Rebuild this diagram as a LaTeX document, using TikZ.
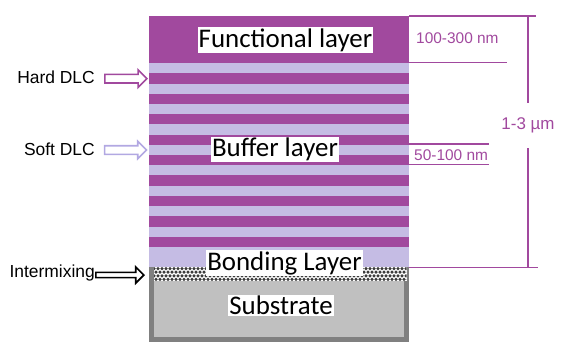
\documentclass[tikz,border=0pt]{standalone}
\usepackage{fontspec}
\setmainfont{Carlito}
\newfontfamily\arialfont{Liberation Sans}
\usetikzlibrary{shapes.arrows}
\definecolor{dlcpurple}{RGB}{161,73,158}
\definecolor{dlclilac}{RGB}{197,188,228}
\definecolor{softedge}{RGB}{178,168,226}
\definecolor{subgray}{RGB}{192,192,192}
\definecolor{subedge}{RGB}{128,128,128}
\definecolor{mixdot}{RGB}{60,60,60}
\begin{document}
\begin{tikzpicture}
[x=1bp, y=-1bp,
  layerlabel/.style={fill=white, inner sep=1bp, font=\fontsize{27}{27}\selectfont},
  sidelabel/.style={anchor=east, inner sep=0pt, font=\arialfont\fontsize{17.5}{17.5}\selectfont},
  sizelabel/.style={text=dlcpurple, inner sep=0pt, font=\arialfont\fontsize{15.5}{15.5}\selectfont},
  blockarrow/.style={single arrow, draw, fill=white, line width=1.6bp, inner xsep=0pt,
    anchor=tip, minimum height=42bp},
  dimline/.style={dlcpurple, line width=1.3bp}]
\useasboundingbox (0,0) rectangle (561,341);
%% substrate and intermixing
\draw [subedge, fill=subgray, line width=5bp] (151.5,269) rectangle (406.5,339);
\fill [white] (154,266.7) rectangle (406.5,281);
\begin{scope}
  \clip (154,266.7) rectangle (406.5,281);
  \foreach \row in {0,...,3}
  {
    \foreach \col in {0,...,63}
    {
      \fill [mixdot] ({154+4*\col+2*mod(\row,2)},{268.6+3.6*\row}) circle (1.75);
    }
  }
\end{scope}
%% coating stack
\fill [dlclilac] (149,62.7) rectangle (409,266.7);
\fill [dlcpurple] (149,16) rectangle (409,62.7);
\foreach \k in {0,...,8}
{
  \fill [dlcpurple] (149,{73.3+20.42*\k}) rectangle (409,{83.6+20.42*\k});
}
%% layer names
\foreach \nodename/\x/\y/\lbl in {functional/285.5/40/Functional layer,
  buffer/275/149.7/Buffer layer, bonding/284.5/263/Bonding Layer,
  substrate/281/305.3/Substrate}
{
  \node (\nodename) at (\x,\y) [layerlabel] {\lbl};
}
%% pointers on the left
\node (hard) at (148,78.7) [blockarrow, draw=dlcpurple, inner ysep=3.5bp,
  single arrow head extend=4.5bp] {};
\node (soft) at (147.7,150) [blockarrow, draw=softedge, inner ysep=3.5bp,
  single arrow head extend=4.5bp] {};
\node (mix) at (145,275) [blockarrow, draw=black, inner ysep=1.8bp,
  minimum height=48bp, single arrow head extend=5.5bp] {};
\foreach \nodename/\x/\y/\lbl in {hardtext/95/77/Hard DLC, softtext/95/149/Soft DLC,
  mixtext/95/273/Intermixing}
{
  \node (\nodename) at (\x,\y) [sidelabel] {\lbl};
}
%% thickness marks on the right
\draw [dimline] (409,16) -- (536,16);
\draw [dimline] (409,62.7) -- (507,62.7);
\draw [dimline] (409,144) -- (489,144);
\draw [dimline] (409,164.7) -- (489,164.7);
\draw [dimline] (409,267.3) -- (538,267.3);
\node (thinfun) at (416,38) [sizelabel, anchor=west] {100-300 nm};
\node (thinbuf) at (414,155) [sizelabel, anchor=west] {50-100 nm};
\coordinate (spantop) at (528,16);
\coordinate (spanbot) at (528,267.3);
\node (span) at (528,125.5) [sizelabel, minimum height=45bp,
  font=\arialfont\fontsize{17}{17}\selectfont] {1-3 µm};
\draw [dimline] (spantop) -- (span.north);
\draw [dimline] (span.south) -- (spanbot);
\end{tikzpicture}
\end{document}
